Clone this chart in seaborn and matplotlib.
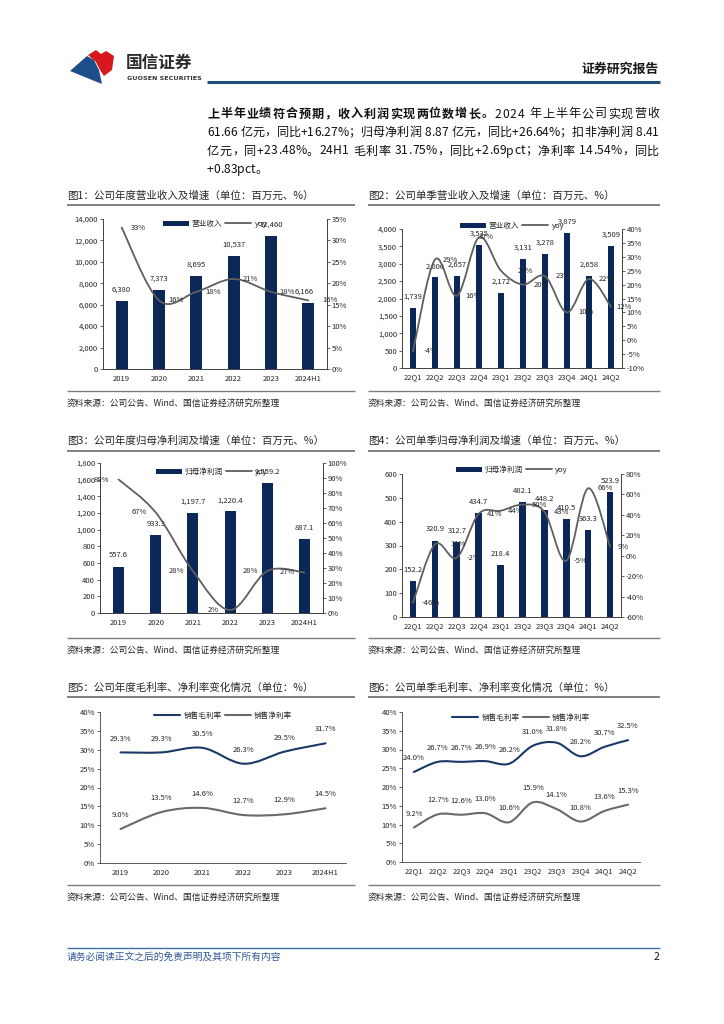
import numpy as np
import pandas as pd
import seaborn as sns
import matplotlib
matplotlib.use("Agg")
import matplotlib.pyplot as plt
from matplotlib.path import Path
from matplotlib.patches import PathPatch, Patch, Polygon
from matplotlib.lines import Line2D
from matplotlib.ticker import FuncFormatter

# ---------------- data ----------------
years = ['2019', '2020', '2021', '2022', '2023', '2024H1']
quarters = ['22Q1', '22Q2', '22Q3', '22Q4', '23Q1', '23Q2', '23Q3', '23Q4', '24Q1', '24Q2']
rev_annual = [6380, 7373, 8695, 10537, 12460, 6166]
rev_annual_yoy = [33, 16, 18, 21, 18, 16]
rev_q = [1739, 2606, 2657, 3535, 2172, 3131, 3278, 3879, 2658, 3509]
rev_q_yoy = [-4, 29, 16, 37, 25, 20, 23, 10, 22, 12]
np_annual = [557.6, 933.3, 1197.7, 1220.4, 1559.2, 887.1]
np_annual_yoy = [89, 67, 28, 2, 28, 27]
np_q = [152.2, 320.9, 312.7, 434.7, 218.4, 482.1, 448.2, 410.5, 363.3, 523.9]
np_q_yoy = [-46, 11, -2, 41, 44, 50, 43, -5, 66, 9]
gm_annual = [29.3, 29.3, 30.5, 26.3, 29.5, 31.7]
nm_annual = [9.0, 13.5, 14.6, 12.7, 12.9, 14.5]
gm_q = [24.0, 26.7, 26.7, 26.9, 26.2, 31.0, 31.8, 28.2, 30.7, 32.5]
nm_q = [9.2, 12.7, 12.6, 13.0, 10.6, 15.9, 14.1, 10.8, 13.6, 15.3]

titles = ['图1：公司年度营业收入及增速（单位：百万元、%）',
          '图2：公司单季营业收入及增速（单位：百万元、%）',
          '图3：公司年度归母净利润及增速（单位：百万元、%）',
          '图4：公司单季归母净利润及增速（单位：百万元、%）',
          '图5：公司年度毛利率、净利率变化情况（单位：%）',
          '图6：公司单季毛利率、净利率变化情况（单位：%）']
source = '资料来源：公司公告、Wind、国信证券经济研究所整理'

body_lines = [
    [('上半年业绩符合预期，收入利润实现两位数增长。', 'bold'), ('2024 年上半年公司实现营收', 'normal')],
    [('61.66 亿元，同比+16.27%；归母净利润 8.87 亿元，同比+26.64%；扣非净利润 8.41', 'normal')],
    [('亿元，同+23.48%。24H1 毛利率 31.75%，同比+2.69pct；净利率 14.54%，同比', 'normal')],
    [('+0.83pct。', 'normal')],
]

# ---------------- style ----------------
sns.set_theme(style='white')
plt.rcParams['font.family'] = ['Noto Sans CJK SC', 'DejaVu Sans']
plt.rcParams['axes.unicode_minus'] = False

NAVY = '#0B2858'
GRAY = '#5F5F5F'
GM_C = '#1B3868'
NM_C = '#6A6A6A'
TXT = '#262626'
FS = 5.5

W, H = 724, 1024
fig = plt.figure(figsize=(W / 100, H / 100), dpi=100)
fig.patch.set_facecolor('white')
renderer = fig.canvas.get_renderer()


def fx(x):
    return x / W


def fy(y):
    return 1 - y / H


def rect(x0, y0, x1, y1):
    return [x0 / W, 1 - y1 / H, (x1 - x0) / W, (y1 - y0) / H]


def hline(x0, x1, y, color, lw):
    fig.add_artist(Line2D([fx(x0), fx(x1)], [fy(y), fy(y)], transform=fig.transFigure,
                          color=color, lw=lw, solid_capstyle='butt'))


def smooth_path(xs, ys):
    pts = list(zip(xs, ys))
    n = len(pts)
    verts = [pts[0]]
    codes = [Path.MOVETO]
    for i in range(n - 1):
        p0 = pts[i - 1] if i > 0 else pts[i]
        p1, p2 = pts[i], pts[i + 1]
        p3 = pts[i + 2] if i + 2 < n else pts[i + 1]
        c1 = (p1[0] + (p2[0] - p0[0]) / 6, p1[1] + (p2[1] - p0[1]) / 6)
        c2 = (p2[0] - (p3[0] - p1[0]) / 6, p2[1] - (p3[1] - p1[1]) / 6)
        verts += [c1, c2, p2]
        codes += [Path.CURVE4] * 3
    return Path(verts, codes)


def style_axis(ax):
    ax.tick_params(axis='y', which='both', length=2, width=0.5, direction='out',
                   labelsize=FS, pad=1.5, colors=TXT, left=True)
    ax.tick_params(axis='x', length=0, labelsize=FS, pad=4, colors=TXT)
    for s in ax.spines.values():
        s.set_color('#404040')
        s.set_linewidth(0.6)
    ax.spines['top'].set_visible(False)
    ax.set_xlabel('')
    ax.set_ylabel('')
    ax.set_facecolor('none')


def bar_line_chart(rpx, cats, bars, yoy, bar_fmt, llim, lstep, rlim, rstep, legname,
                   bw, yoy_dx, bar_dx, leg_y_px):
    ax = fig.add_axes(rect(*rpx))
    sns.barplot(x=cats, y=bars, ax=ax, color=NAVY, width=bw, saturation=1,
                edgecolor='none', linewidth=0)
    n = len(cats)
    ax.set_xlim(-0.5, n - 0.5)
    ax.set_ylim(*llim)
    ax.set_yticks(np.arange(llim[0], llim[1] + 1e-9, lstep))
    ax.yaxis.set_major_formatter(FuncFormatter(lambda v, p: f"{v:,.0f}"))
    style_axis(ax)
    ax2 = ax.twinx()
    ax2.set_ylim(*rlim)
    ax2.set_yticks(np.arange(rlim[0], rlim[1] + 1e-9, rstep))
    ax2.yaxis.set_major_formatter(FuncFormatter(lambda v, p: f"{v:.0f}%"))
    style_axis(ax2)
    ax2.tick_params(axis='y', right=True, left=False)
    ax2.spines['top'].set_visible(False)
    xs = np.arange(n)
    ax2.add_patch(PathPatch(smooth_path(xs, yoy), fill=False, edgecolor=GRAY, lw=1.3,
                            capstyle='round', zorder=3))
    for i, (v, dx) in enumerate(zip(yoy, yoy_dx)):
        ax2.text(i + dx, v, f"{v:.0f}%", ha='center', va='center', fontsize=FS,
                 color=TXT, zorder=4)
    for i, (v, dx) in enumerate(zip(bars, bar_dx)):
        ax.annotate(bar_fmt(v), (i + dx, v), xytext=(0, 8), textcoords='offset points',
                    ha='center', va='center', fontsize=FS, color=TXT)
    y0, y1 = rpx[1], rpx[3]
    ly = (y1 - leg_y_px) / (y1 - y0)
    handles = [Patch(facecolor=NAVY, edgecolor='none', label=legname),
               Line2D([], [], color=GRAY, lw=1.3, label='yoy')]
    ax2.legend(handles=handles, loc='center', bbox_to_anchor=(0.5, ly), ncol=2,
               frameon=False, fontsize=FS, handlelength=3.4, handleheight=0.7,
               columnspacing=0.4, handletextpad=0.4, borderaxespad=0, borderpad=0)
    return ax, ax2


def margin_chart(rpx, cats, gm, nm, leg_y_px):
    ax = fig.add_axes(rect(*rpx))
    n = len(cats)
    xs = np.arange(n)
    ax.set_xlim(-0.5, n - 0.5)
    ax.set_ylim(0, 40)
    ax.set_yticks(np.arange(0, 40.1, 5))
    ax.yaxis.set_major_formatter(FuncFormatter(lambda v, p: f"{v:.0f}%"))
    ax.set_xticks(xs)
    ax.set_xticklabels(cats)
    style_axis(ax)
    ax.spines['right'].set_visible(False)
    ax.add_patch(PathPatch(smooth_path(xs, gm), fill=False, edgecolor=GM_C, lw=1.5,
                           capstyle='round'))
    ax.add_patch(PathPatch(smooth_path(xs, nm), fill=False, edgecolor=NM_C, lw=1.5,
                           capstyle='round'))
    for series in (gm, nm):
        for i, v in enumerate(series):
            ax.annotate(f"{v:.1f}%", (i, v), xytext=(0, 10), textcoords='offset points',
                        ha='center', va='center', fontsize=FS, color=TXT)
    y0, y1 = rpx[1], rpx[3]
    ly = (y1 - leg_y_px) / (y1 - y0)
    handles = [Line2D([], [], color=GM_C, lw=1.5, label='销售毛利率'),
               Line2D([], [], color=NM_C, lw=1.5, label='销售净利率')]
    ax.legend(handles=handles, loc='center', bbox_to_anchor=(0.5, ly), ncol=2,
              frameon=False, fontsize=FS, handlelength=3.4, columnspacing=0.4,
              handletextpad=0.4, borderaxespad=0, borderpad=0)
    return ax


def draw_justified(segments, x0, x1, y, size, justify=True):
    chars = []
    for txt, w in segments:
        for ch in txt:
            chars.append((ch, w))
    objs, widths = [], []
    for ch, w in chars:
        if ch == ' ':
            objs.append(None)
            widths.append(size * 100 / 72 * 0.3)
            continue
        t = fig.text(0, 0, ch, fontsize=size, fontweight=w, va='center', ha='left',
                     color='#111111')
        bb = t.get_window_extent(renderer)
        objs.append(t)
        widths.append(bb.width)
    total = sum(widths)
    gap = (x1 - x0 - total) / (len(chars) - 1) if justify else 0
    x = x0
    for t, wd in zip(objs, widths):
        if t is not None:
            t.set_position((fx(x), fy(y)))
        x += wd + gap


# ---------------- header ----------------
blue_logo = Polygon([(fx(70), fy(71)), (fx(87), fy(56)), (fx(94), fy(60)), (fx(99), fy(70)),
                     (fx(102), fy(84)), (fx(92), fy(80))], closed=True,
                    transform=fig.transFigure, facecolor='#1D4E89', edgecolor='none')
red_logo = Polygon([(fx(88), fy(55)), (fx(96), fy(50)), (fx(101), fy(54)), (fx(106), fy(51)),
                    (fx(114), fy(56)), (fx(112), fy(70)), (fx(104), fy(76)), (fx(100), fy(70)),
                    (fx(96), fy(62))], closed=True,
                   transform=fig.transFigure, facecolor='#D7191F', edgecolor='none')
fig.add_artist(blue_logo)
fig.add_artist(red_logo)
fig.text(fx(126), fy(63), '国信证券', fontsize=12, fontweight='bold', color='#2A2A2A',
         va='center', ha='left')
fig.text(fx(127), fy(78), 'GUOSEN SECURITIES', fontsize=4.6, fontweight='bold',
         color='#333333', va='center', ha='left', family='DejaVu Sans')
fig.text(fx(659), fy(69), '证券研究报告', fontsize=9.3, fontweight='bold', color='#1A1A1A',
         va='center', ha='right')
hline(207, 660, 82, '#1F4E79', 2.2)

# ---------------- body ----------------
body_y = [114, 132.5, 151, 169.5]
for k, (segs, yy) in enumerate(zip(body_lines, body_y)):
    draw_justified(segs, 207, 659, yy, 8.7, justify=(k < len(body_lines) - 1))

# ---------------- titles / sources ----------------
title_y = [196, 196, 441, 441, 688, 688]
title_line_y = [205, 205, 451, 451, 697, 697]
src_line_y = [391, 391, 638, 638, 885, 885]
src_y = [403, 403, 650, 650, 897, 897]
col_x = [(67, 355), (368, 660)]
for k in range(6):
    xa, xb = col_x[k % 2]
    fig.text(fx(xa), fy(title_y[k]), titles[k], fontsize=7.6, color=TXT, va='center', ha='left')
    hline(xa, xb, title_line_y[k], '#7F7F7F', 1.4)
    hline(xa, xb, src_line_y[k], '#7F7F7F', 1.0)
    fig.text(fx(xa), fy(src_y[k]), source, fontsize=6.3, color=TXT, va='center', ha='left')

# ---------------- charts ----------------
bar_line_chart((103, 219, 327, 369), years, rev_annual, rev_annual_yoy,
               lambda v: f"{v:,.0f}", (0, 14000), 2000, (0, 35), 5, '营业收入', 0.32,
               [0.45, 0.45, 0.45, 0.45, 0.42, 0.58], [0, 0, 0, 0, 0, -0.1], 224)
bar_line_chart((402, 229, 622, 368), quarters, rev_q, rev_q_yoy,
               lambda v: f"{v:,.0f}", (0, 4000), 500, (-10, 40), 5, '营业收入', 0.28,
               [0.78, 0.69, 0.71, 0.32, 1.1, 0.83, 0.83, 0.87, 0.79, 0.6], [0] * 10, 226)
bar_line_chart((100, 463, 323, 613), years, np_annual, np_annual_yoy,
               lambda v: f"{v:,.1f}", (0, 1800), 200, (0, 100), 10, '归母净利润', 0.3,
               [-0.45] * 6, [0] * 6, 472)
bar_line_chart((402, 474, 621, 617), quarters, np_q, np_q_yoy,
               lambda v: f"{v:,.1f}", (0, 600), 100, (-60, 80), 20, '归母净利润', 0.3,
               [0.83, 1.08, 0.78, 0.71, 0.69, 0.76, 0.78, 0.66, 0.8, 0.6], [0] * 10, 470)
margin_chart((100, 712, 346, 863), years, gm_annual, nm_annual, 716)
margin_chart((402, 712, 640, 862), quarters, gm_q, nm_q, 718)

# ---------------- footer ----------------
hline(67, 660, 948, '#3D6FA5', 1.0)
fig.text(fx(67), fy(957), '请务必阅读正文之后的免责声明及其项下所有内容', fontsize=7, color='#2F5597',
         va='center', ha='left', style='italic')
fig.text(fx(659), fy(957), '2', fontsize=7.5, color='#111111', va='center', ha='right')

fig.savefig('out.png', dpi=100, facecolor='white')
